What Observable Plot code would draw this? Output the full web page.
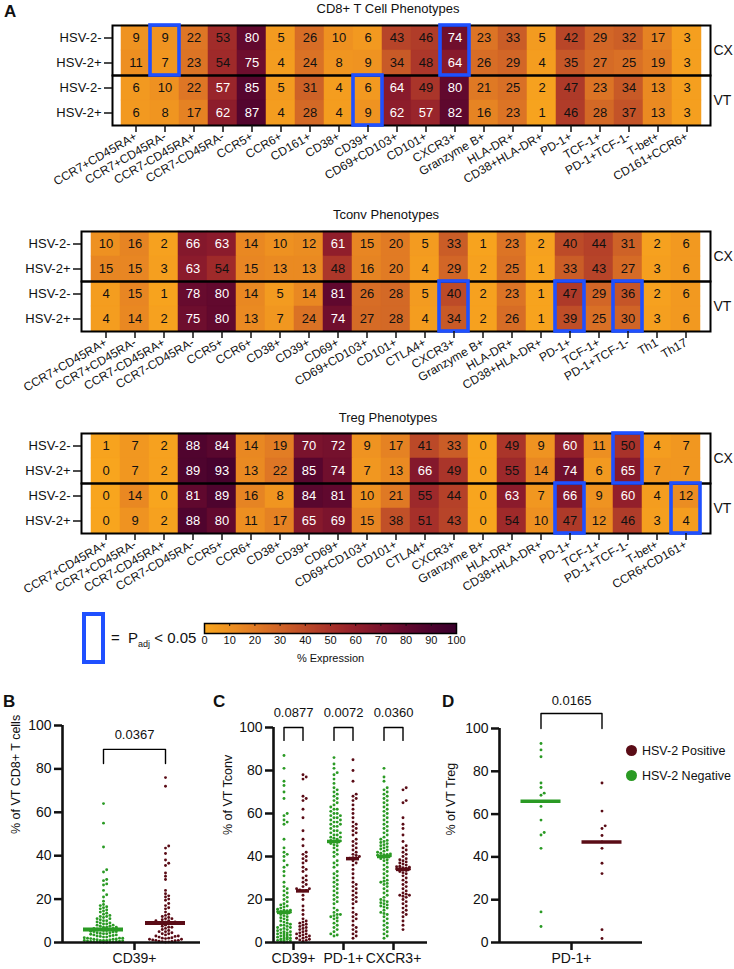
<!DOCTYPE html>
<html>
<head>
<meta charset="utf-8">
<script src="https://cdn.jsdelivr.net/npm/d3@7"></script>
<script src="https://cdn.jsdelivr.net/npm/@observablehq/plot@0.6"></script>
<style>
  body { margin: 0; background: #fff; font-family: Arial, "Liberation Sans", Helvetica, sans-serif; }
  #fig { position: relative; width: 734px; height: 969px; overflow: hidden; background: #fff; }
  .abs { position: absolute; white-space: nowrap; color: #111; }
  .panel { font-weight: bold; font-size: 17px; }
  .title { font-size: 13px; transform: translateX(-50%); }
  svg { overflow: visible; }
</style>
</head>
<body>
<div id="fig"></div>
<script>
// ---------- Heatmap data: median % expression by tissue (CX / VT) and HSV-2 status ----------
const cd8Markers = ["CCR7+CD45RA+","CCR7+CD45RA-","CCR7-CD45RA+","CCR7-CD45RA-","CCR5+","CCR6+","CD161+","CD38+","CD39+","CD69+CD103+","CD101+","CXCR3+","Granzyme B+","HLA-DR+","CD38+HLA-DR+","PD-1+","TCF-1+","PD-1+TCF-1-","T-bet+","CD161+CCR6+"];
const cd8CxNeg = [9,9,22,53,80,5,26,10,6,43,46,74,23,33,5,42,29,32,17,3];
const cd8CxPos = [11,7,23,54,75,4,24,8,9,34,48,64,26,29,4,35,27,25,19,3];
const cd8VtNeg = [6,10,22,57,85,5,31,4,6,64,49,80,21,25,2,47,23,34,13,3];
const cd8VtPos = [6,8,17,62,87,4,28,4,9,62,57,82,16,23,1,46,28,37,13,3];
const cd8Sig = [["CX","CCR7+CD45RA-"],["CX","CXCR3+"],["VT","CD39+"]];

const tconvMarkers = ["CCR7+CD45RA+","CCR7+CD45RA-","CCR7-CD45RA+","CCR7-CD45RA-","CCR5+","CCR6+","CD38+","CD39+","CD69+","CD69+CD103+","CD101+","CTLA4+","CXCR3+","Granzyme B+","HLA-DR+","CD38+HLA-DR+","PD-1+","TCF-1+","PD-1+TCF-1-","Th1","Th17"];
const tconvCxNeg = [10,16,2,66,63,14,10,12,61,15,20,5,33,1,23,2,40,44,31,2,6];
const tconvCxPos = [15,15,3,63,54,15,13,13,48,16,20,4,29,2,25,1,33,43,27,3,6];
const tconvVtNeg = [4,15,1,78,80,14,5,14,81,26,28,5,40,2,23,1,47,29,36,2,6];
const tconvVtPos = [4,14,2,75,80,13,7,24,74,27,28,4,34,2,26,1,39,25,30,3,6];
const tconvSig = [["VT","CXCR3+"],["VT","PD-1+"],["VT","PD-1+TCF-1-"]];

const tregMarkers = ["CCR7+CD45RA+","CCR7+CD45RA-","CCR7-CD45RA+","CCR7-CD45RA-","CCR5+","CCR6+","CD38+","CD39+","CD69+","CD69+CD103+","CD101+","CTLA4+","CXCR3+","Granzyme B+","HLA-DR+","CD38+HLA-DR+","PD-1+","TCF-1+","PD-1+TCF-1-","T-bet+","CCR6+CD161+"];
const tregCxNeg = [1,7,2,88,84,14,19,70,72,9,17,41,33,0,49,9,60,11,50,4,7];
const tregCxPos = [0,7,2,89,93,13,22,85,74,7,13,66,49,0,55,14,74,6,65,7,7];
const tregVtNeg = [0,14,0,81,89,16,8,84,81,10,21,55,44,0,63,7,66,9,60,4,12];
const tregVtPos = [0,9,2,88,80,11,17,65,69,15,38,51,43,0,54,10,47,12,46,3,4];
const tregSig = [["CX","PD-1+TCF-1-"],["VT","PD-1+"],["VT","CCR6+CD161+"]];

const tissues = ["CX","VT"];
const statuses = ["HSV-2-","HSV-2+"];

// colour ramp for % expression
const rampStops = [0,10,20,30,40,50,60,70,80,90,100];
const rampColors = ["#f8a51e","#ee9121","#e17b24","#d06427","#bd4b28","#a8322a","#921f2b","#7a132d","#62092e","#4c032e","#3a002c"];
const whiteTextFrom = 56;

// ---------- Per-sample values in the vaginal tract (VT) ----------
const cd8Cd39Neg = [64,55,44,33.5,32.5,29,28.5,27,26.5,24,22,21,19,17.5,17,16.5,16,15.5,15,14.5,14,13.5,13,12.5,12,12,11.5,11,11,10.5,10,10,9.5,9,9,8.5,8.5,8,8,7.5,7.5,7,7,7,6.5,6.5,6.2,6,5.8,5.5,5.5,5.2,5,5,4.8,4.5,4.5,4.2,4,4,3.8,3.5,3.5,3.2,3,3,2.8,2.5,2.5,2.2,2,2,2,1.8,1.6,1.5,1.5,1.3,1.2,1,1,1,0.9,0.8,0.7,0.6,0.5,0.5,0.4,0.3,0.3,0.2,0.2,0.1,0.1];
const cd8Cd39Pos = [76,72,44.5,43.5,41,38,36.5,35.5,32,30.5,29,24,22.5,21.5,21,20,19.5,18,17,16,15.5,14,13,12.5,12,11.5,11,11,10.5,10,10,9.5,9.5,9.2,9,8.8,8.5,8,7.5,7,7,6.5,6,5.5,5,5,4.5,4,4,3.5,3,3,2.8,2.5,2.2,2,2,1.8,1.5,1.5,1.2,1,1,0.8,0.6,0.5,0.4,0.3,0.2];

const tconvCd39Neg = [87,81,75,73,70,67,60,59,57,56,55,48,44,42,41,40,38,36,35,33,31,28,26,25,24,23,22,21,20,19,18,17.5,17,16.5,16,15.5,15,15,14.8,14.5,14.3,14.1,14,13.5,13,12.5,12,11.5,11,10.5,10,9.5,9,8.5,8,8,7.5,7,7,6.5,6,6,5.5,5,5,4.5,4.5,4,4,3.5,3.5,3,3,2.5,2.5,2,2,1.5,1.5,1,1,0.8,0.5,0.3,0.2];
const tconvCd39Pos = [78,77,76,68,67,66,62,58,52,48,45,42,41,40,39,38,37,35,34,33,31,30,29,28,27,26,25,25,24.5,24.2,24,22,20,17,15,13,11,10,9.5,9,8.5,8,7.5,7,6.5,6,5.5,5,4.5,4,4,3.5,3,3,2.5,2,2,1.5,1.2,1,0.5];
const tconvPd1Neg = [86,83,81,79,78,76,74,72,71,70,69,68,67,66,65,64,63,62,62,61,60,60,59,59,58,58,57,57,56,56,55,55,54,54,53,52,52,51,51,50,50,49,49,48.5,48,47.5,47.2,47,46.5,46,45.5,45,44,43,42,41,40,38,37,36,35,33,32,31,30,29,28,27,26,25,24,23,22,21,20,19,18,16,15,14,13,13,12.5,12,11.5,11,10,9,8,7,6,5,4,3.5,3];
const tconvPd1Pos = [85,80,75,69,68,67,66,64,62,60,58,56,55,54,53,52,51,50,48,47,46,45,44,43,42,41,40.5,40,39.5,39.2,39,38,37,36,34,32,30,28,27,26,25,24,23,22,21,20,19,18,16,14,13,12,11,10,8,7,6,5,4,3,2];
const tconvCxcr3Neg = [81,77,75,72,71,70,69,68,67,66,65,64,63,62,61,60,59,58,57,56,55,54,53,52,51,50,49,48,47.5,47,46.5,46,45.5,45,44.5,44,43.5,43,42.5,42,41.5,41.2,41,40.8,40.6,40.4,40.2,40,39.5,39,38.5,38,37,36,35,34,33,32,31,30,29,28.5,28,27.5,27,26,25,24,23,22,21,20,19.5,19,18.5,18,17.5,17,16.5,16,15,14,13.5,13,12,11,10,9,8,7,6,5,4,3,2];
const tconvCxcr3Pos = [72,71,66,65,58,55,53,50,47,45,44,43,42,41,40,39,38.5,38,37.5,37,36.5,36,35.5,35.2,35,34.8,34.6,34.4,34.2,34.1,34,33.5,33,32.5,32,31,30,29,28,27,26,25,24,23,22.5,22,22,21.5,21,20,19,18,17,16,15,14,13,12,10,8,6];

const tregPd1Neg = [93,90,86.8,74.5,72.4,69.8,68.8,63.6,57.2,51.4,50.2,44,14.3,7.5];
const tregPd1Pos = [74.5,61.4,54.5,53.3,50,47,44,37,32.2,6,1.9];

const pB = ["0.0367"];
const pC = ["0.0877","0.0072","0.0360"];
const pD = ["0.0165"];

// ---------- shared styling ----------
const negColor = "#2a9a24";
const posColor = "#5a0c16";
const sigBlue = "#1f50ff";
const plotStyle = {fontFamily: "Arial, 'Liberation Sans', Helvetica, sans-serif", background: "transparent", overflow: "visible", color: "#111"};
const colorScale = {type: "linear", domain: rampStops, range: rampColors, interpolate: "rgb"};

const fig = document.getElementById("fig");
function place(node, left, top) {
  node.style.position = "absolute";
  node.style.left = left + "px";
  node.style.top = top + "px";
  fig.appendChild(node);
  return node;
}
function html(str, left, top, cls) {
  const d = document.createElement("div");
  d.className = "abs " + (cls || "");
  d.innerHTML = str;
  return place(d, left, top);
}

// ---------- heatmaps ----------
function heatmap(markers, cxNeg, cxPos, vtNeg, vtPos, sig, marginLeft) {
  const cells = [];
  [["CX","HSV-2-",cxNeg],["CX","HSV-2+",cxPos],["VT","HSV-2-",vtNeg],["VT","HSV-2+",vtPos]]
    .forEach(([tissue, status, vals]) => vals.forEach((v, i) => cells.push({tissue, status, marker: markers[i], v})));
  const sigCells = sig.map(([tissue, marker]) => ({tissue, marker}));
  const pos = {x: "marker", y: "status", fy: "tissue"};
  return Plot.plot({
    width: 734, height: 200,
    marginLeft, marginRight: 24, marginTop: 25, marginBottom: 75,
    style: plotStyle,
    x: {domain: markers, padding: 0},
    y: {domain: statuses, padding: 0},
    fy: {domain: tissues, padding: 0},
    color: colorScale,
    marks: [
      Plot.cell(cells, {...pos, fill: "v", stroke: "v", strokeWidth: 0.5, inset: 0}),
      Plot.text(cells.filter(d => d.v < whiteTextFrom), {...pos, text: "v", fill: "#111", fontSize: 13}),
      Plot.text(cells.filter(d => d.v >= whiteTextFrom), {...pos, text: "v", fill: "white", fontSize: 13}),
      Plot.frame({stroke: "black", strokeWidth: 2}),
      Plot.cell(sigCells, {x: "marker", fy: "tissue", fill: "none", stroke: sigBlue, strokeWidth: 3.6, inset: 0}),
      Plot.axisX({tickRotate: -30, tickSize: 7, tickPadding: 3, strokeWidth: 1.5, fontSize: 12, label: null}),
      Plot.axisY({tickSize: 8, tickPadding: 3, strokeWidth: 1.5, fontSize: 13, label: null}),
      Plot.axisFy({anchor: "right", tickSize: 0, tickPadding: 3, fontSize: 14, label: null})
    ]
  });
}

html("A", 4, 2, "panel");
html("CD8+ T Cell Phenotypes", 388, 1, "title");
place(heatmap(cd8Markers, cd8CxNeg, cd8CxPos, cd8VtNeg, cd8VtPos, cd8Sig, 112), 0, 0);
html("Tconv Phenotypes", 386, 207, "title");
place(heatmap(tconvMarkers, tconvCxNeg, tconvCxPos, tconvVtNeg, tconvVtPos, tconvSig, 81), 0, 206);
html("Treg Phenotypes", 388, 410, "title");
place(heatmap(tregMarkers, tregCxNeg, tregCxPos, tregVtNeg, tregVtPos, tregSig, 81), 0, 408);

// ---------- significance key + colour bar ----------
const key = html("", 82, 612);
key.style.width = "23px"; key.style.height = "52px";
key.style.boxSizing = "border-box"; key.style.border = "4px solid " + sigBlue;
html('<span style="font-size:15px">=&nbsp; P<sub style="font-size:9px">adj</sub> &lt; 0.05</span>', 111, 629);

const rampSteps = d3.range(0, 100, 0.5);
const colorbar = Plot.plot({
  width: 280, height: 56,
  marginLeft: 14, marginRight: 14, marginTop: 5, marginBottom: 41,
  style: plotStyle,
  x: {domain: [0, 100]},
  color: colorScale,
  marks: [
    Plot.rect(rampSteps, {x1: d => d, x2: d => d + 0.5, fill: d => d + 0.25, shapeRendering: "crispEdges"}),
    Plot.tickX(d3.range(10, 100, 10), {x: d => d, insetBottom: 7, strokeWidth: 1}),
    Plot.frame({stroke: "black", strokeWidth: 1.5}),
    Plot.axisX({ticks: d3.range(0, 101, 10), tickSize: 0, tickPadding: 3, fontSize: 11, label: null}),
    Plot.text(["% Expression"], {text: d => d, frameAnchor: "bottom", dy: 28, fontSize: 11})
  ]
});
place(colorbar, 190, 618);

// ---------- dot plots ----------
// simple beeswarm: spread points sideways so they do not overlap, within maxOff pixels
function swarm(values, pxPerUnit, step, maxOff, diam) {
  const sorted = values.slice().sort((a, b) => a - b);
  const cands = [0];
  for (let k = 1; k * step <= maxOff; k++) cands.push(k * step, -k * step);
  const placed = [];
  return sorted.map(v => {
    const py = v * pxPerUnit;
    let best = 0, bestD = -1;
    for (const c of cands) {
      let minD = Infinity;
      for (const q of placed) {
        const dy = q.py - py;
        if (Math.abs(dy) >= diam) continue;
        const d = Math.hypot(q.x - c, dy);
        if (d < minD) minD = d;
      }
      if (minD >= diam) { best = c; break; }
      if (minD > bestD) { bestD = minD; best = c; }
    }
    placed.push({py, x: best});
    return {v, off: best};
  });
}

function dotPanel(cfg) {
  const {width, ml, mr, mt, mb, markers, neg, pos, medNeg, medPos, pvals, centers, gap, maxOff,
         medHalf, medStroke, ylabel, labelDx, pY, bTop, bBottom} = cfg;
  const height = 289;
  const W = width - ml - mr;
  const ppu = (height - mt - mb) / 100;
  const negDots = [], posDots = [];
  markers.forEach((m, i) => {
    swarm(neg[i], ppu, 3.2, maxOff, 3.0).forEach(p => negDots.push({x: centers[i] - gap + p.off, y: p.v}));
    swarm(pos[i], ppu, 3.2, maxOff, 3.0).forEach(p => posDots.push({x: centers[i] + gap + p.off, y: p.v}));
  });
  const meds = markers.map((m, i) => ({c: centers[i], neg: medNeg[i], pos: medPos[i]}));
  const brackets = markers.flatMap((m, i) => [
    {x: centers[i] - gap, y: bBottom, z: i}, {x: centers[i] - gap, y: bTop, z: i},
    {x: centers[i] + gap, y: bTop, z: i}, {x: centers[i] + gap, y: bBottom, z: i}]);
  return Plot.plot({
    width, height, marginLeft: ml, marginRight: mr, marginTop: mt, marginBottom: mb,
    style: plotStyle,
    x: {domain: [0, W]},
    y: {domain: [0, 100]},
    marks: [
      Plot.dot(negDots, {x: "x", y: "y", r: 1.45, fill: negColor}),
      Plot.dot(posDots, {x: "x", y: "y", r: 1.45, fill: posColor}),
      Plot.ruleY(meds, {y: "neg", x1: d => d.c - gap - medHalf, x2: d => d.c - gap + medHalf, stroke: negColor, strokeWidth: medStroke}),
      Plot.ruleY(meds, {y: "pos", x1: d => d.c + gap - medHalf, x2: d => d.c + gap + medHalf, stroke: posColor, strokeWidth: medStroke}),
      Plot.line(brackets, {x: "x", y: "y", z: "z", stroke: "black", strokeWidth: 1.4}),
      Plot.text(pvals.map((p, i) => ({x: centers[i], y: pY, p})), {x: "x", y: "y", text: "p", fontSize: 13}),
      Plot.ruleX([0], {y1: 0, y2: 100, strokeWidth: 2.6}),
      Plot.ruleY([0], {x1: 0, x2: W, strokeWidth: 2.6}),
      Plot.axisY({ticks: d3.range(0, 101, 20), tickSize: 8, tickPadding: 3, strokeWidth: 2.5, fontSize: 14, label: null}),
      Plot.axisX({ticks: centers, tickFormat: d => markers[centers.indexOf(d)], tickSize: 8, tickPadding: 3, strokeWidth: 2.5, fontSize: 14, label: null}),
      Plot.text([ylabel], {text: d => d, frameAnchor: "left", rotate: -90, dx: -labelDx, fontSize: 12.5})
    ]
  });
}

const at = (markers, vals, name) => vals[markers.indexOf(name)];

html("B", 3, 692, "panel");
place(dotPanel({
  width: 220, ml: 62, mr: 20, mt: 45, mb: 27,
  markers: ["CD39+"], neg: [cd8Cd39Neg], pos: [cd8Cd39Pos],
  medNeg: [at(cd8Markers, cd8VtNeg, "CD39+")], medPos: [at(cd8Markers, cd8VtPos, "CD39+")],
  pvals: pB, centers: [72], gap: 31, maxOff: 20, medHalf: 20, medStroke: 4,
  ylabel: "% of VT CD8+ T cells", labelDx: 47, pY: 95.5, bTop: 89, bBottom: 82.5
}), 0, 680);

html("C", 213, 692, "panel");
const cMarkers = ["CD39+","PD-1+","CXCR3+"];
place(dotPanel({
  width: 240, ml: 73, mr: 13, mt: 47, mb: 27,
  markers: cMarkers,
  neg: [tconvCd39Neg, tconvPd1Neg, tconvCxcr3Neg],
  pos: [tconvCd39Pos, tconvPd1Pos, tconvCxcr3Pos],
  medNeg: cMarkers.map(m => at(tconvMarkers, tconvVtNeg, m)),
  medPos: cMarkers.map(m => at(tconvMarkers, tconvVtPos, m)),
  pvals: pC, centers: [20, 70, 120], gap: 9.5, maxOff: 6.5, medHalf: 6.5, medStroke: 3.5,
  ylabel: "% of VT Tconv", labelDx: 46, pY: 107, bTop: 100, bBottom: 94
}), 200, 680);

html("D", 442, 692, "panel");
place(dotPanel({
  width: 294, ml: 59, mr: 92, mt: 48, mb: 27,
  markers: ["PD-1+"], neg: [tregPd1Neg], pos: [tregPd1Pos],
  medNeg: [at(tregMarkers, tregVtNeg, "PD-1+")], medPos: [at(tregMarkers, tregVtPos, "PD-1+")],
  pvals: pD, centers: [72], gap: 30.5, maxOff: 5, medHalf: 20, medStroke: 3.5,
  ylabel: "% of VT Treg", labelDx: 49, pY: 113, bTop: 107, bBottom: 100
}), 440, 680);

// legend for HSV-2 status
html('<span style="display:inline-block;width:11px;height:11px;border-radius:50%;background:' + posColor +
     ';vertical-align:-1px;margin-right:5px"></span><span style="font-size:12.5px">HSV-2 Positive</span>', 626, 741);
html('<span style="display:inline-block;width:11px;height:11px;border-radius:50%;background:' + negColor +
     ';vertical-align:-1px;margin-right:5px"></span><span style="font-size:12.5px">HSV-2 Negative</span>', 626, 766);
</script>
</body>
</html>
